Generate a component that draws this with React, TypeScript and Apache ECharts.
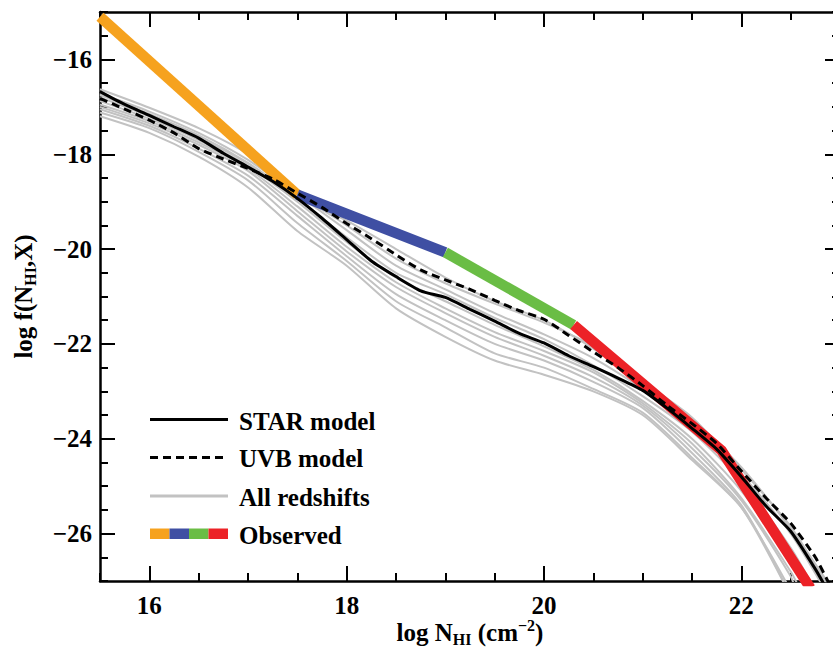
import React, { useEffect, useRef } from "react";
import * as echarts from "echarts";

// ---------- data ----------
const xMajorTicks = [16, 18, 20, 22];
const yMajorTicks = [-26, -24, -22, -20, -18, -16];
const legendLabels = ["STAR model", "UVB model", "All redshifts", "Observed"];

const logN = [
  15.5, 15.75, 16.0, 16.25, 16.5, 16.75, 17.0, 17.25, 17.5, 17.75, 18.0, 18.25,
  18.5, 18.75, 19.0, 19.25, 19.5, 19.75, 20.0, 20.25, 20.5, 20.75, 21.0, 21.25,
  21.5, 21.75, 22.0, 22.25, 22.5, 22.75, 22.9,
];
const starModel = [
  -16.68, -16.95, -17.18, -17.42, -17.66, -17.98, -18.27, -18.57, -18.93, -19.35,
  -19.8, -20.25, -20.58, -20.88, -21.02, -21.27, -21.52, -21.78, -21.98, -22.25,
  -22.48, -22.72, -22.98, -23.36, -23.78, -24.22, -24.8, -25.42, -25.95, -26.75,
  -27.3,
];
const uvbModel = [
  -16.82, -17.05, -17.28, -17.55, -17.88, -18.1, -18.3, -18.52, -18.82, -19.12,
  -19.46, -19.78, -20.12, -20.44, -20.65, -20.85, -21.08, -21.3, -21.48, -21.82,
  -22.17, -22.5, -22.88, -23.3, -23.68, -24.1, -24.68, -25.25, -25.78, -26.5,
  -27.1,
];

const redshiftX = [15.5, 16, 16.5, 17, 17.5, 18, 18.5, 19, 19.5, 20, 20.5, 21, 21.5, 22, 22.5];
const redshiftCurves = [
  { y: [-16.63, -17.02, -17.45, -18.0, -18.82, -19.5, -20.2, -20.72, -21.15, -21.55, -22.05, -22.85, -23.6, -24.6, -25.9], end: [22.9, -27.1] },
  { y: [-16.72, -17.1, -17.55, -18.12, -18.85, -19.6, -20.35, -20.85, -21.35, -21.8, -22.3, -22.95, -23.7, -24.75, -26.0], end: [22.85, -27.2] },
  { y: [-16.8, -17.2, -17.65, -18.2, -18.95, -19.75, -20.5, -20.95, -21.45, -21.9, -22.45, -23.1, -23.85, -24.9, -26.3], end: [22.75, -27.2] },
  { y: [-16.88, -17.25, -17.7, -18.25, -19.0, -19.85, -20.6, -21.1, -21.6, -22.05, -22.55, -23.2, -24.0, -25.1, -26.6], end: [22.65, -27.2] },
  { y: [-16.95, -17.3, -17.75, -18.3, -19.1, -19.95, -20.7, -21.25, -21.75, -22.15, -22.6, -23.25, -24.1, -25.25, -26.8], end: [22.6, -27.2] },
  { y: [-17.0, -17.35, -17.8, -18.35, -19.2, -20.05, -20.8, -21.35, -21.85, -22.25, -22.7, -23.3, -24.2, -25.3, -26.9], end: [22.55, -27.2] },
  { y: [-17.05, -17.4, -17.88, -18.45, -19.3, -20.15, -20.95, -21.5, -22.0, -22.35, -22.8, -23.35, -24.3, -25.4], end: [22.45, -27.1] },
  { y: [-17.12, -17.45, -17.95, -18.55, -19.45, -20.25, -21.1, -21.65, -22.2, -22.5, -22.95, -23.45, -24.4, -25.45], end: [22.47, -27.2] },
  { y: [-17.2, -17.55, -18.05, -18.7, -19.62, -20.35, -21.25, -21.85, -22.35, -22.65, -23.0, -23.5, -24.45, -25.45], end: [22.5, -27.2] },
  { y: [-16.75, -17.15, -17.6, -18.18, -18.9, -19.4, -20.0, -20.6, -21.1, -21.5, -22.1, -22.8, -23.55, -24.65, -25.85], end: [22.9, -27.2] },
];

const observedOrange = [[15.5, -15.1], [17.5, -18.85]];
const observedBlue = [[17.5, -18.85], [19.0, -20.07]];
const observedGreen = [[19.0, -20.07], [20.3, -21.6]];
const observedRed = [[20.3, -21.6], [21.8, -24.25], [22.7, -27.15]];

// ---------- styling ----------
const FONT = "'Liberation Serif', 'Times New Roman', serif";
const C_ORANGE = "#F6A21E";
const C_BLUE = "#3F4FA3";
const C_GREEN = "#6ABD45";
const C_RED = "#EC2227";
const C_GREY = "#C2C2C2";

const fmtMinus = (v: number) => (v < 0 ? "\u2212" + Math.abs(v) : String(v));

const rich = {
  a: { fontSize: 25, fontWeight: "bold", fontFamily: FONT, color: "#000", lineHeight: 30 },
  sub: { fontSize: 16, fontWeight: "bold", fontFamily: FONT, color: "#000", lineHeight: 14, verticalAlign: "bottom" },
  sup: { fontSize: 16, fontWeight: "bold", fontFamily: FONT, color: "#000", lineHeight: 14, verticalAlign: "top" },
};

export default function App() {
  const ref = useRef<HTMLDivElement>(null);

  useEffect(() => {
    if (!ref.current) return;
    const chart = echarts.init(ref.current, undefined, { renderer: "svg" });

    const gridBox = { left: 100, top: 12, width: 740, height: 569, containLabel: false, outerBoundsMode: "none" };
    const axisLineStyle = { show: true, lineStyle: { color: "#000", width: 2.5 } };
    const majorTickX = { show: true, inside: true, length: 15, lineStyle: { color: "#000", width: 2 }, customValues: xMajorTicks };
    const majorTickY = { show: true, inside: true, length: 15, lineStyle: { color: "#000", width: 2 }, customValues: yMajorTicks };
    const minorTick = { show: true, inside: true, length: 8, lineStyle: { color: "#000", width: 2 } };
    const labelStyle = { fontSize: 25, fontWeight: "bold", fontFamily: FONT, color: "#000" };

    const xBase = { type: "value", min: 15.5, max: 23, splitLine: { show: false } };
    const yBase = { type: "value", min: -27, max: -15, splitLine: { show: false } };

    const lineData = (ys: number[]) => logN.map((x, i) => [x, ys[i]]);

    const greySeries = redshiftCurves.map((c) => ({
      type: "line",
      name: legendLabels[2],
      xAxisIndex: 0,
      yAxisIndex: 0,
      data: [...redshiftX.slice(0, c.y.length).map((x, i) => [x, c.y[i]]), c.end],
      showSymbol: false,
      smooth: 0.25,
      lineStyle: { color: C_GREY, width: 2 },
      z: 2,
      silent: true,
    }));

    const obs = (data: number[][], color: string) => ({
      type: "line",
      name: legendLabels[3],
      xAxisIndex: 0,
      yAxisIndex: 0,
      data,
      showSymbol: false,
      lineStyle: { color, width: 10.5, cap: "butt", join: "miter" },
      z: 3,
      silent: true,
    });

    chart.setOption({
      animation: false,
      backgroundColor: "#fff",
      textStyle: { fontFamily: FONT },
      grid: [gridBox, gridBox],
      xAxis: [
        {
          ...xBase,
          gridIndex: 0,
          position: "bottom",
          axisLine: axisLineStyle,
          axisTick: majorTickX,
          axisLabel: { ...labelStyle, margin: 12, customValues: xMajorTicks },
          name: "{a|log N}{sub|HI}{a| (cm}{sup|\u22122}{a|)}",
          nameLocation: "middle",
          nameGap: 36,
          nameMoveOverlap: false,
          nameTextStyle: { rich },
        },
        {
          ...xBase,
          gridIndex: 0,
          position: "top",
          axisLine: axisLineStyle,
          axisTick: majorTickX,
          axisLabel: { show: false },
        },
        {
          ...xBase,
          gridIndex: 1,
          position: "bottom",
          interval: 0.5,
          axisLine: { show: false },
          axisTick: minorTick,
          axisLabel: { show: false },
        },
        {
          ...xBase,
          gridIndex: 1,
          position: "top",
          interval: 0.5,
          axisLine: { show: false },
          axisTick: minorTick,
          axisLabel: { show: false },
        },
      ],
      yAxis: [
        {
          ...yBase,
          gridIndex: 0,
          position: "left",
          axisLine: axisLineStyle,
          axisTick: majorTickY,
          axisLabel: { ...labelStyle, margin: 8, customValues: yMajorTicks, formatter: fmtMinus },
          name: "{a|log f(N}{sub|HI}{a|,X)}",
          nameLocation: "middle",
          nameRotate: 90,
          nameGap: 62,
          nameMoveOverlap: false,
          nameTextStyle: { rich },
        },
        {
          ...yBase,
          gridIndex: 0,
          position: "right",
          axisLine: axisLineStyle,
          axisTick: majorTickY,
          axisLabel: { show: false },
        },
        {
          ...yBase,
          gridIndex: 1,
          position: "left",
          interval: 0.5,
          axisLine: { show: false },
          axisTick: minorTick,
          axisLabel: { show: false },
        },
        {
          ...yBase,
          gridIndex: 1,
          position: "right",
          interval: 0.5,
          axisLine: { show: false },
          axisTick: minorTick,
          axisLabel: { show: false },
        },
      ],
      series: [
        ...greySeries,
        obs(observedOrange, C_ORANGE),
        obs(observedBlue, C_BLUE),
        obs(observedGreen, C_GREEN),
        obs(observedRed, C_RED),
        {
          type: "line",
          name: legendLabels[0],
          xAxisIndex: 0,
          yAxisIndex: 0,
          data: lineData(starModel),
          showSymbol: false,
          smooth: 0.2,
          lineStyle: { color: "#000", width: 3 },
          z: 4,
          silent: true,
        },
        {
          type: "line",
          name: legendLabels[1],
          xAxisIndex: 0,
          yAxisIndex: 0,
          data: lineData(uvbModel),
          showSymbol: false,
          smooth: 0.2,
          lineStyle: { color: "#000", width: 3, type: [8, 5] },
          z: 5,
          silent: true,
        },
      ],
      graphic: [
        { type: "line", shape: { x1: 150, y1: 419.5, x2: 228, y2: 419.5 }, style: { stroke: "#000", lineWidth: 3 } },
        { type: "line", shape: { x1: 150, y1: 457.5, x2: 228, y2: 457.5 }, style: { stroke: "#000", lineWidth: 3, lineDash: [8, 5] } },
        { type: "line", shape: { x1: 150, y1: 496, x2: 228, y2: 496 }, style: { stroke: C_GREY, lineWidth: 3 } },
        { type: "rect", shape: { x: 150, y: 528.5, width: 19.5, height: 10.5 }, style: { fill: C_ORANGE } },
        { type: "rect", shape: { x: 169.5, y: 528.5, width: 19.5, height: 10.5 }, style: { fill: C_BLUE } },
        { type: "rect", shape: { x: 189, y: 528.5, width: 19.5, height: 10.5 }, style: { fill: C_GREEN } },
        { type: "rect", shape: { x: 208.5, y: 528.5, width: 19.5, height: 10.5 }, style: { fill: C_RED } },
        ...legendLabels.map((t, i) => ({
          type: "text",
          x: 239,
          y: [421, 458.5, 497, 535][i],
          style: {
            text: t,
            fill: "#000",
            font: `bold 25px ${FONT}`,
            textVerticalAlign: "middle",
            verticalAlign: "middle",
            align: "left",
          },
        })),
      ],
    });

    return () => chart.dispose();
  }, []);

  return (
    <div style={{ position: "fixed", left: 0, top: 0, width: 833, height: 648, overflow: "hidden", background: "#fff" }}>
      <div ref={ref} style={{ width: 850, height: 648 }} />
    </div>
  );
}
